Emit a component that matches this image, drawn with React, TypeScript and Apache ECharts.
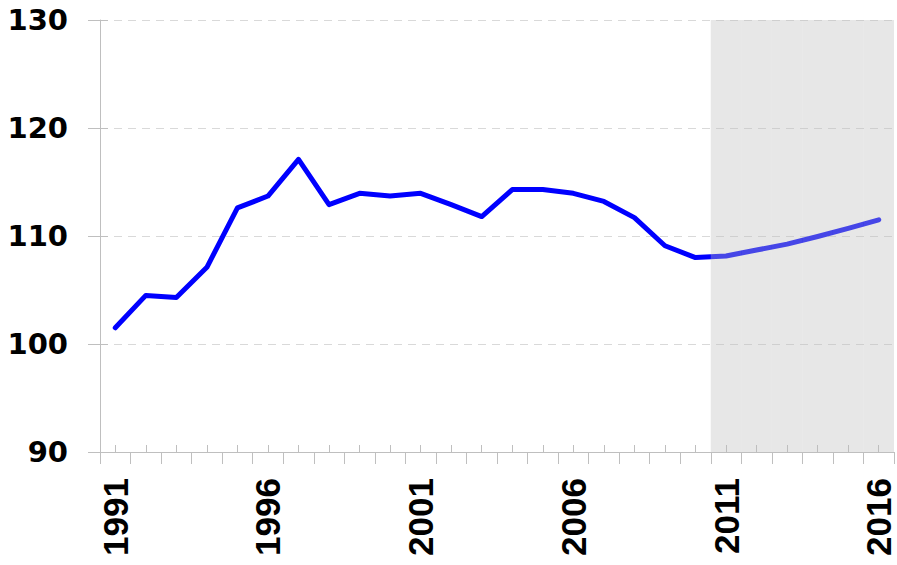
import React, { useEffect, useRef } from "react";
import * as echarts from "echarts";

const years = [
  "1991", "1992", "1993", "1994", "1995", "1996", "1997", "1998", "1999", "2000",
  "2001", "2002", "2003", "2004", "2005", "2006", "2007", "2008", "2009", "2010",
  "2011", "2012", "2013", "2014", "2015", "2016",
];

const values = [
  101.5, 104.5, 104.3, 107.1, 112.6, 113.7, 117.1, 112.9, 113.95, 113.7,
  113.95, 112.9, 111.8, 114.3, 114.3, 113.95, 113.2, 111.7, 109.1, 108.0,
  108.15, 108.7, 109.25, 109.95, 110.7, 111.5,
];

const forecastYears = ["2011", "2012", "2013", "2014", "2015", "2016"];
const yMin = 90;
const yMax = 130;
const yStep = 10;

export default function App() {
  const ref = useRef<HTMLDivElement>(null);

  useEffect(() => {
    if (!ref.current) return;
    const chart = echarts.init(ref.current, undefined, { renderer: "svg" });
    const shadeBase = years.map((y) => (forecastYears.includes(y) ? yMin : "-"));
    const shadeTop = years.map((y) => (forecastYears.includes(y) ? yMax - yMin : "-"));
    chart.setOption({
      animation: false,
      grid: { left: 100, right: 3, top: 20, bottom: 113, containLabel: false },
      xAxis: [
        {
          type: "category",
          data: years,
          boundaryGap: true,
          axisLine: { show: true, lineStyle: { color: "#bfbfbf", width: 1 } },
          axisTick: { show: true, interval: 0, length: 12, lineStyle: { color: "#bfbfbf" } },
          axisLabel: {
            interval: 4,
            rotate: 90,
            margin: 26,
            fontFamily: "Liberation Sans",
            fontWeight: "bold",
            fontSize: 35,
            color: "#000",
          },
          splitLine: { show: false },
        },
        {
          type: "category",
          data: years,
          position: "bottom",
          boundaryGap: true,
          axisLine: { show: false },
          axisTick: {
            show: true,
            inside: true,
            alignWithLabel: true,
            interval: 0,
            length: 7,
            lineStyle: { color: "#bfbfbf" },
          },
          axisLabel: { show: false },
          splitLine: { show: false },
        },
      ],
      yAxis: [
        {
          type: "value",
          min: yMin,
          max: yMax,
          interval: yStep,
          axisLine: { show: true, lineStyle: { color: "#bfbfbf", width: 1 } },
          axisTick: { show: true, length: 12, lineStyle: { color: "#bfbfbf" } },
          axisLabel: {
            margin: 32,
            fontFamily: "DejaVu Sans",
            fontWeight: "bold",
            fontSize: 29,
            color: "#000",
          },
          splitLine: {
            show: true,
            lineStyle: { color: "#d9d9d9", type: [8, 6], width: 1 },
          },
        },
        {
          type: "value",
          min: yMin,
          max: yMax,
          interval: yStep,
          position: "left",
          axisLine: { show: false },
          axisTick: { show: true, inside: true, length: 8, lineStyle: { color: "#bfbfbf" } },
          axisLabel: { show: false },
          splitLine: { show: false },
        },
      ],
      series: [
        {
          type: "line",
          data: values,
          xAxisIndex: 0,
          yAxisIndex: 0,
          symbol: "none",
          z: 2,
          lineStyle: { color: "#0000ff", width: 5, cap: "round", join: "round" },
        },
        {
          type: "bar",
          stack: "shade",
          data: shadeBase,
          xAxisIndex: 0,
          yAxisIndex: 0,
          barWidth: "100%",
          barGap: "-100%",
          itemStyle: { color: "rgba(0,0,0,0)" },
          z: 3,
          silent: true,
        },
        {
          type: "bar",
          stack: "shade",
          data: shadeTop,
          xAxisIndex: 0,
          yAxisIndex: 0,
          barWidth: "100%",
          barGap: "-100%",
          itemStyle: { color: "rgba(189,189,189,0.37)" },
          z: 3,
          silent: true,
        },
      ],
    });
    return () => chart.dispose();
  }, []);

  return (
    <div
      ref={ref}
      style={{ position: "fixed", left: 0, top: 0, width: 897, height: 565, background: "#fff" }}
    />
  );
}
